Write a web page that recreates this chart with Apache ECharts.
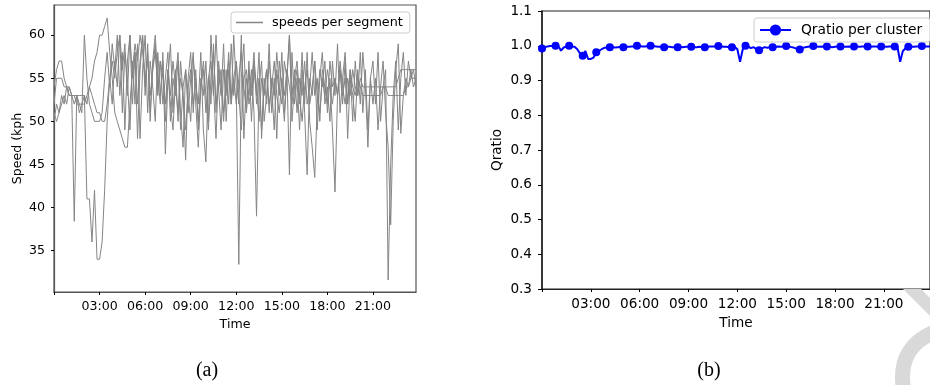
<!DOCTYPE html>
<html>
<head>
<meta charset="utf-8">
<script src="https://cdn.jsdelivr.net/npm/echarts@6/dist/echarts.min.js"></script>
<style>
  html, body { margin: 0; padding: 0; background: #fff; }
  #chart { width: 930px; height: 385px; }
</style>
</head>
<body>
<div id="chart"></div>
<script>
// 10-minute time slots over one day
const times = [];
for (let i = 0; i < 144; i++) {
    const h = Math.floor(i / 6), m = (i % 6) * 10;
    times.push(String(h).padStart(2, '0') + ':' + String(m).padStart(2, '0'));
}

// speed per segment (kph)
const speedSeg1 = [
    54, 56, 57, 57, 55, 54,  54, 53, 53, 52, 52, 52,  52, 53, 54, 55, 57, 58,
    60, 60, 61, 62, 58, 55,  51, 50, 49, 48, 47, 47,  52, 56, 59, 57, 60, 58,
    55, 57, 53, 56, 58, 54,  57, 55, 52, 56, 53, 57,  54, 51, 55, 53, 49, 54,
    56, 52, 55, 50, 54, 57,  53, 49, 55, 58, 52, 54,  56, 51, 54, 57, 53, 55,
    52, 55, 58, 54, 51, 56,  53, 57, 54, 50, 55, 53,  56, 52, 54, 57, 53, 51,
    55, 53, 56, 54, 52, 55,  57, 53, 50, 54, 56, 52,  54, 57, 53, 51, 55, 53,
    56, 54, 52, 55, 53, 57,  54, 52, 55, 53, 56, 54,  53, 55, 54, 54, 54, 54,
    54, 54, 54, 54, 54, 54,  54, 54, 54, 54, 55, 56,  56, 56, 56, 56, 56, 56
];
const speedSeg2 = [
    52, 55, 55, 55, 54, 54,  53, 53, 53, 53, 53, 53,  53, 41, 41, 36, 42, 34,
    34, 36, 42, 50, 55, 57,  55, 58, 60, 56, 59, 53,  60, 55, 58, 52, 57, 60,
    54, 58, 51, 56, 59, 53,  57, 52, 55, 58, 50, 55,  53, 57, 49, 54, 56, 51,
    55, 58, 52, 47, 54, 56,  51, 55, 57, 53, 60, 54,  49, 56, 53, 58, 52, 55,
    57, 53, 49, 55, 56, 52,  54, 58, 52, 55, 49, 54,  56, 51, 55, 53, 58, 54,
    52, 57, 55, 60, 53, 56,  51, 55, 53, 57, 52, 54,  58, 53, 55, 50, 56, 54,
    52, 57, 54, 55, 53, 56,  53, 55, 52, 56, 54, 53,  55, 54, 53, 53, 53, 53,
    53, 53, 53, 53, 54, 54,  53, 53, 53, 53, 53, 53,  53, 54, 54, 55, 55, 55
];
const speedSeg3 = [
    50, 52, 51, 53, 52, 54,  53, 53, 38.4, 53, 52, 51,  60, 55, 52, 51, 50, 50,
    50, 51, 55, 58, 54, 59,  56, 60, 53, 58, 49, 57,  60, 52, 58, 48, 56, 60,
    53, 59, 50, 57, 60, 55,  52, 58, 46.2, 55, 59, 51,  56, 50, 57, 53, 45.5, 55,
    58, 51, 56, 49, 55, 53,  57, 50, 60, 54, 48, 56,  53, 59, 50, 56, 52, 60,
    54, 33.4, 55, 59, 51, 57,  50, 56, 53, 58, 48, 55,  52, 57, 54, 49, 56, 53,
    58, 51, 55, 60, 50, 54,  56, 52, 58, 51, 43.8, 55,  53, 57, 49, 55, 58, 52,
    54, 50, 57, 53, 59, 51,  55, 58, 52, 56, 50, 57,  53, 58, 51, 56, 49, 55,
    57, 52, 58, 50, 54, 56,  31.6, 45, 53, 57, 49, 55,  58, 53, 57, 55, 56, 54
];
const speedSeg4 = [
    51, 50, 51, 52, 53, 52,  54, 53, 52, 53, 51, 52,  53, 52, 54, 53, 52, 51,
    51, 50, 50, 52, 55, 52,  57, 54, 60, 51, 58, 55,  49, 57, 52, 59, 48, 56,
    60, 51, 57, 54, 50, 58,  53, 57, 50, 56, 52, 49,  55, 58, 51, 47, 56, 53,
    50, 57, 54, 52, 58, 49,  45.3, 55, 52, 59, 51, 57,  54, 50, 56, 52, 59, 53,
    57, 52, 60, 48, 55, 53,  56, 51, 39, 54, 57, 50,  53, 59, 51, 55, 48, 57,
    54, 50, 56, 43.8, 58, 52,  55, 49, 56, 52, 58, 50,  47, 43.5, 52, 56, 54, 57,
    51, 55, 49, 41.8, 53, 56,  52, 57, 48, 55, 53, 50,  56, 52, 58, 54, 47, 55,
    52, 55, 49, 54, 57, 51,  47, 38, 50, 56, 59, 48.6,  53, 55, 54, 56, 54, 55
];
const speedSeries = [speedSeg1, speedSeg2, speedSeg3, speedSeg4];
const speedTicks = [35, 40, 45, 50, 55, 60];

// Qratio per cluster
const qratio = [
    0.992, 0.996, 0.998, 0.999, 0.999,  1.000, 0.999, 0.986, 0.995, 0.998,
    1.000, 0.998, 0.997, 0.990, 0.978,  0.971, 0.985, 0.962, 0.962, 0.966,
    0.981, 0.985, 0.990, 0.994, 0.995,  0.996, 0.996, 0.995, 0.996, 0.997,
    0.996, 0.997, 0.997, 0.998, 0.998,  1.000, 0.999, 0.998, 0.998, 0.999,
    1.000, 0.999, 0.998, 0.997, 0.997,  0.996, 0.997, 0.997, 0.996, 0.996,
    0.996, 0.997, 0.996, 0.997, 0.997,  0.997, 0.996, 0.996, 0.997, 0.996,
    0.996, 0.997, 0.998, 0.998, 0.998,  0.999, 0.998, 0.997, 0.997, 0.996,
    0.996, 0.997, 0.990, 0.954, 0.990,  1.000, 0.998, 0.993, 0.996, 0.990,
    0.987, 0.992, 0.996, 0.994, 0.996,  0.996, 0.997, 0.998, 0.997, 0.998,
    0.999, 0.998, 0.996, 0.994, 0.991,  0.989, 0.993, 0.996, 0.997, 0.998,
    0.999, 0.998, 0.997, 0.998, 0.997,  0.998, 0.997, 0.996, 0.997, 0.998,
    0.998, 0.997, 0.997, 0.998, 0.997,  0.998, 0.998, 0.997, 0.998, 0.998,
    0.998, 0.997, 0.998, 0.998, 0.997,  0.998, 0.998, 0.997, 0.998, 0.998,
    0.998, 0.997, 0.954, 0.985, 0.993,  0.997, 0.998, 0.997, 0.998, 0.998,
    0.999, 0.998, 0.998, 0.998
];
const qratioTicks = [0.3, 0.4, 0.5, 0.6, 0.7, 0.8, 0.9, 1.0, 1.1];

const FONT = 'DejaVu Sans';
const chart = echarts.init(document.getElementById('chart'));

function timeAxis(gridIndex, fs, lineColor) {
    return {
        type: 'category',
        gridIndex: gridIndex,
        data: times,
        boundaryGap: false,
        name: 'Time',
        nameLocation: 'middle',
        nameGap: gridIndex === 0 ? 25 : 27,
        nameTextStyle: { fontFamily: FONT, fontSize: fs, color: '#000' },
        axisLine: { show: true, lineStyle: { color: lineColor, width: 1.2 } },
        axisTick: { show: true, length: 3, interval: (i) => i % 18 === 0, lineStyle: { color: '#000' } },
        axisLabel: {
            interval: (i) => i % 18 === 0 && i !== 0,
            margin: 8,
            fontFamily: FONT, fontSize: fs, color: '#000'
        },
        splitLine: { show: false }
    };
}

const option = {
    animation: false,
    backgroundColor: '#fff',
    grid: [
        { left: 54, top: 5, width: 362, height: 287, show: true, borderColor: '#555', borderWidth: 1.2 },
        { left: 542, top: 11, width: 392, height: 278, show: true, borderColor: '#222', borderWidth: 1.2 }
    ],
    legend: [
        {
            data: [{ name: 'speeds per segment', icon: 'rect' }],
            left: 231, top: 12,
            itemWidth: 27, itemHeight: 1.5,
            padding: [4, 7, 4, 5],
            backgroundColor: 'rgba(255,255,255,0.85)',
            borderColor: '#ccc', borderWidth: 1, borderRadius: 3,
            textStyle: { fontFamily: FONT, fontSize: 12.8, color: '#000', padding: [0, 0, 0, 4], lineHeight: 13 }
        },
        {
            data: ['Qratio per cluster'],
            left: 754, top: 18,
            itemWidth: 31, itemHeight: 14,
            padding: [5, 8, 5, 5],
            backgroundColor: 'rgba(255,255,255,0.85)',
            borderColor: '#ccc', borderWidth: 1, borderRadius: 3,
            textStyle: { fontFamily: FONT, fontSize: 13.8, color: '#000', padding: [0, 0, 0, 5] }
        }
    ],
    xAxis: [timeAxis(0, 12.6, '#555'), timeAxis(1, 13.6, '#222')],
    yAxis: [
        {
            type: 'value', gridIndex: 0,
            min: 30.2, max: 63.5,
            name: 'Speed (kph', nameLocation: 'middle', nameGap: 30,
            nameTextStyle: { fontFamily: FONT, fontSize: 12.6, color: '#000' },
            axisLine: { show: true, lineStyle: { color: '#555', width: 1.2 } },
            axisTick: { show: true, length: 3, customValues: speedTicks, lineStyle: { color: '#000' } },
            axisLabel: { customValues: speedTicks, margin: 9, fontFamily: FONT, fontSize: 12.6, color: '#000' },
            splitLine: { show: false }
        },
        {
            type: 'value', gridIndex: 1,
            min: 0.3, max: 1.1,
            name: 'Qratio', nameLocation: 'middle', nameGap: 38,
            nameTextStyle: { fontFamily: FONT, fontSize: 13.6, color: '#000' },
            axisLine: { show: true, lineStyle: { color: '#222', width: 1.5 } },
            axisTick: { show: true, length: 4, customValues: qratioTicks, lineStyle: { color: '#000' } },
            axisLabel: {
                customValues: qratioTicks, margin: 10,
                formatter: (v) => v.toFixed(1),
                fontFamily: FONT, fontSize: 13.6, color: '#000'
            },
            splitLine: { show: false }
        }
    ],
    series: speedSeries.map((vals) => ({
        name: 'speeds per segment',
        type: 'line',
        xAxisIndex: 0, yAxisIndex: 0,
        data: vals,
        symbol: 'none',
        lineStyle: { color: '#858585', width: 1 },
        itemStyle: { color: '#858585' }
    })).concat([{
        name: 'Qratio per cluster',
        type: 'line',
        xAxisIndex: 1, yAxisIndex: 1,
        data: qratio,
        symbol: 'circle',
        showSymbol: true,
        showAllSymbol: true,
        symbolSize: (v, p) => (p && p.dataIndex % 5 === 0 ? 8 : 0),
        lineStyle: { color: '#0000ff', width: 2 },
        itemStyle: { color: '#0000ff' },
        z: 3
    }]),
    graphic: [
        {
            type: 'polygon', z: 100,
            shape: { points: [[903, 289], [921, 289], [936, 304], [936, 322]] },
            style: { fill: '#d9d9d9' }
        },
        {
            type: 'bezierCurve', z: 100,
            shape: { x1: 940, y1: 330, cpx1: 895, cpy1: 345, x2: 904, y2: 392 },
            style: { stroke: '#d9d9d9', lineWidth: 15, fill: null }
        },
        {
            type: 'text', x: 207, y: 371,
            style: { text: '(a)', align: 'center', verticalAlign: 'middle', font: '20px "Liberation Serif"', fill: '#000' }
        },
        {
            type: 'text', x: 709, y: 371,
            style: { text: '(b)', align: 'center', verticalAlign: 'middle', font: '20px "Liberation Serif"', fill: '#000' }
        }
    ]
};

chart.setOption(option);
</script>
</body>
</html>
